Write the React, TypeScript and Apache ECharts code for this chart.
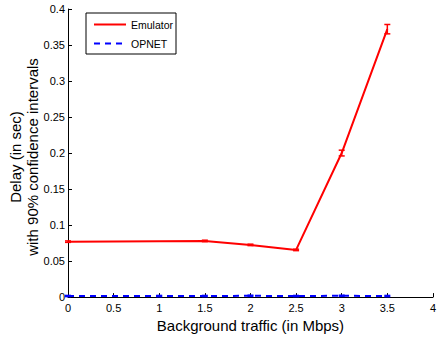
import React, { useEffect, useRef } from "react";
import * as echarts from "echarts";

const emulatorX = [0, 1.5, 2, 2.5, 3, 3.5];
const emulatorY = [0.077, 0.078, 0.0725, 0.0655, 0.2, 0.372];
const emulatorErr = [0.001, 0.001, 0.001, 0.001, 0.004, 0.0065];

const opnetX = [0, 1, 1.5, 2, 2.5, 3, 3.5];
const opnetY = [0.0015, 0.0015, 0.0015, 0.0018, 0.0015, 0.0018, 0.0015];
const opnetErr = [0.0008, 0.0008, 0.0008, 0.0008, 0.0008, 0.0008, 0.0008];

const xTicks = { min: 0, max: 4, interval: 0.5 };
const yTicks = { min: 0, max: 0.4, interval: 0.05 };

const FONT = "Liberation Sans";

function errorBarSeries(name: string, xs: number[], ys: number[], es: number[], color: string) {
  return {
    name: name + "-err",
    type: "custom",
    z: 5,
    data: xs.map((x, i) => [x, ys[i], es[i]]),
    renderItem: (params: any, api: any) => {
      const x = api.value(0);
      const y = api.value(1);
      const e = api.value(2);
      const lo = api.coord([x, y - e]);
      const hi = api.coord([x, y + e]);
      const w = 3;
      const style = { stroke: color, lineWidth: 1.5 };
      return {
        type: "group",
        children: [
          { type: "line", shape: { x1: lo[0], y1: lo[1], x2: hi[0], y2: hi[1] }, style },
          { type: "line", shape: { x1: lo[0] - w, y1: lo[1], x2: lo[0] + w, y2: lo[1] }, style },
          { type: "line", shape: { x1: hi[0] - w, y1: hi[1], x2: hi[0] + w, y2: hi[1] }, style },
        ],
      };
    },
  };
}

export default function App() {
  const ref = useRef<HTMLDivElement>(null);
  useEffect(() => {
    document.body.style.margin = "0";
    if (!ref.current) return;
    const chart = echarts.init(ref.current, undefined, { renderer: "svg" });
    chart.setOption({
      animation: false,
      backgroundColor: "#fff",
      textStyle: { fontFamily: FONT },
      grid: { left: 68, right: 2, top: 9, bottom: 38, containLabel: false },
      legend: {
        orient: "vertical",
        left: 86,
        top: 13,
        data: ["Emulator", "OPNET"],
        backgroundColor: "#fff",
        borderColor: "#000",
        borderWidth: 1,
        borderRadius: 0,
        padding: [6, 3, 5, 7],
        itemWidth: 32,
        itemHeight: 10,
        itemGap: 8,
        itemStyle: { opacity: 0 },
        textStyle: { fontFamily: FONT, fontSize: 10.5, color: "#000" },
      },
      xAxis: {
        type: "value",
        min: xTicks.min,
        max: xTicks.max,
        interval: xTicks.interval,
        axisLine: { show: true, lineStyle: { color: "#000", width: 1 } },
        axisTick: { show: true, inside: true, length: 4, lineStyle: { color: "#000" } },
        axisLabel: { fontFamily: FONT, fontSize: 11, color: "#000", margin: 5 },
        splitLine: { show: false },
        name: "Background traffic (in Mbps)",
        nameLocation: "middle",
        nameGap: 17,
        nameTextStyle: { fontFamily: FONT, fontSize: 15, color: "#000" },
      },
      yAxis: {
        type: "value",
        min: yTicks.min,
        max: yTicks.max,
        interval: yTicks.interval,
        axisLine: { show: true, lineStyle: { color: "#000", width: 1 } },
        axisTick: { show: true, inside: true, length: 4, lineStyle: { color: "#000" } },
        axisLabel: { fontFamily: FONT, fontSize: 11, color: "#000", margin: 3 },
        splitLine: { show: false },
      },
      graphic: [
        {
          type: "text",
          x: 15,
          y: 157,
          rotation: Math.PI / 2,
          style: {
            text: "Delay (in sec)",
            font: `15px "${FONT}"`,
            fill: "#000",
            align: "center",
            verticalAlign: "middle",
          },
        },
        {
          type: "text",
          x: 32,
          y: 157,
          rotation: Math.PI / 2,
          style: {
            text: "with 90% confidence intervals",
            font: `15px "${FONT}"`,
            fill: "#000",
            align: "center",
            verticalAlign: "middle",
          },
        },
      ],
      series: [
        {
          name: "Emulator",
          type: "line",
          data: emulatorX.map((x, i) => [x, emulatorY[i]]),
          symbol: "none",
          lineStyle: { color: "#ff0000", width: 2 },
          itemStyle: { color: "#ff0000" },
          z: 4,
        },
        {
          name: "OPNET",
          type: "line",
          data: opnetX.map((x, i) => [x, opnetY[i]]),
          symbol: "none",
          lineStyle: { color: "#0000ff", width: 2, type: [6, 5] },
          itemStyle: { color: "#0000ff" },
          z: 4,
        },
        errorBarSeries("Emulator", emulatorX, emulatorY, emulatorErr, "#ff0000"),
        errorBarSeries("OPNET", opnetX, opnetY, opnetErr, "#0000ff"),
      ],
    });
    return () => chart.dispose();
  }, []);
  return <div ref={ref} style={{ width: 439, height: 338 }} />;
}
